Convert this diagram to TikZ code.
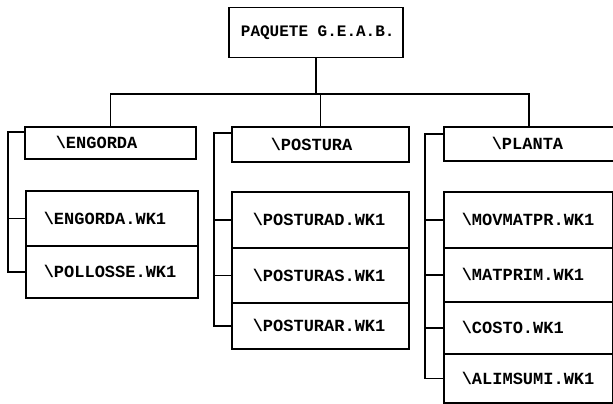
\documentclass[tikz,border=0pt]{standalone}
\usepackage{fontspec}
\newfontfamily\monofont{Liberation Mono}[BoldFont={* Bold}]
\begin{document}
\begin{tikzpicture}[x=1pt,y=-1pt,
  box/.style={draw, line width=1.5pt, rectangle, anchor=north west, inner ysep=0pt,
    align=left, font=\monofont\bfseries\fontsize{17}{20}\selectfont},
  wire/.style={line width=1.5pt}]
\useasboundingbox (0,0) rectangle (613,404);
% top
\node[box, align=center, minimum height=50pt, inner xsep=0pt, text width=174pt,
  font=\monofont\bfseries\fontsize{16}{19}\selectfont] (top) at (228,7) {\hspace{4pt}PAQUETE\hspace{0.6em}G.E.A.B.};
% headers
\node[box, minimum height=32pt, inner xsep=31pt, text width=109pt] (eng) at (24,126) {\textbackslash ENGORDA};
\node[box, minimum height=35pt, inner xsep=39pt, text width=99pt] (pos) at (231,126) {\textbackslash POSTURA};
\node[box, minimum height=34pt, inner xsep=48pt, text width=74pt] (pla) at (443,126) {\textbackslash PLANTA};
% engorda children
\node[box, minimum height=55pt, inner xsep=18pt, text width=136pt] (e1) at (25,190) {\textbackslash ENGORDA.WK1};
\node[box, minimum height=52pt, inner xsep=18pt, text width=136pt] (e2) at (25,245) {\textbackslash POLLOSSE.WK1};
% postura children
\node[box, minimum height=56pt, inner xsep=21pt, text width=135pt] (p1) at (231,191) {\textbackslash POSTURAD.WK1};
\node[box, minimum height=55pt, inner xsep=21pt, text width=135pt] (p2) at (231,247) {\textbackslash POSTURAS.WK1};
\node[box, minimum height=46pt, inner xsep=21pt, text width=135pt] (p3) at (231,302) {\textbackslash POSTURAR.WK1};
% planta children
\node[box, minimum height=56pt, inner xsep=18pt, text width=133pt] (l1) at (443,191) {\textbackslash MOVMATPR.WK1};
\node[box, minimum height=54pt, inner xsep=18pt, text width=133pt] (l2) at (443,247) {\textbackslash MATPRIM.WK1};
\node[box, minimum height=52pt, inner xsep=18pt, text width=133pt] (l3) at (443,301) {\textbackslash COSTO.WK1};
\node[box, minimum height=49pt, inner xsep=18pt, text width=133pt] (l4) at (443,353) {\textbackslash ALIMSUMI.WK1};
% tree connectors
\coordinate (h) at (317,94);
\draw[wire] (top.south) -- (top.south |- h);
\draw[wire] (eng.north) -- (eng.north |- h) -- (pla.north |- h) -- (pla.north);
\draw[wire] (pos.north) -- (pos.north |- h);
% brackets
\coordinate (be) at (8,0);
\coordinate (bp) at (214,0);
\coordinate (bl) at (425,0);
\coordinate (et) at ([yshift=-6pt]eng.north west);
\coordinate (pt) at ([yshift=-7pt]pos.north west);
\coordinate (lt) at ([yshift=-8pt]pla.north west);
\draw[wire] (et) -- (et -| be) -- (e2.west -| be) -- (e2.west);
\draw[wire] (e1.west -| be) -- (e1.west);
\draw[wire] (pt) -- (pt -| bp) -- (p3.west -| bp) -- (p3.west);
\draw[wire] (p1.west -| bp) -- (p1.west);
\draw[wire] (p2.west -| bp) -- (p2.west);
\draw[wire] (lt) -- (lt -| bl) -- (l4.west -| bl) -- (l4.west);
\draw[wire] (l1.west -| bl) -- (l1.west);
\draw[wire] (l2.west -| bl) -- (l2.west);
\draw[wire] (l3.west -| bl) -- (l3.west);
\end{tikzpicture}
\end{document}
